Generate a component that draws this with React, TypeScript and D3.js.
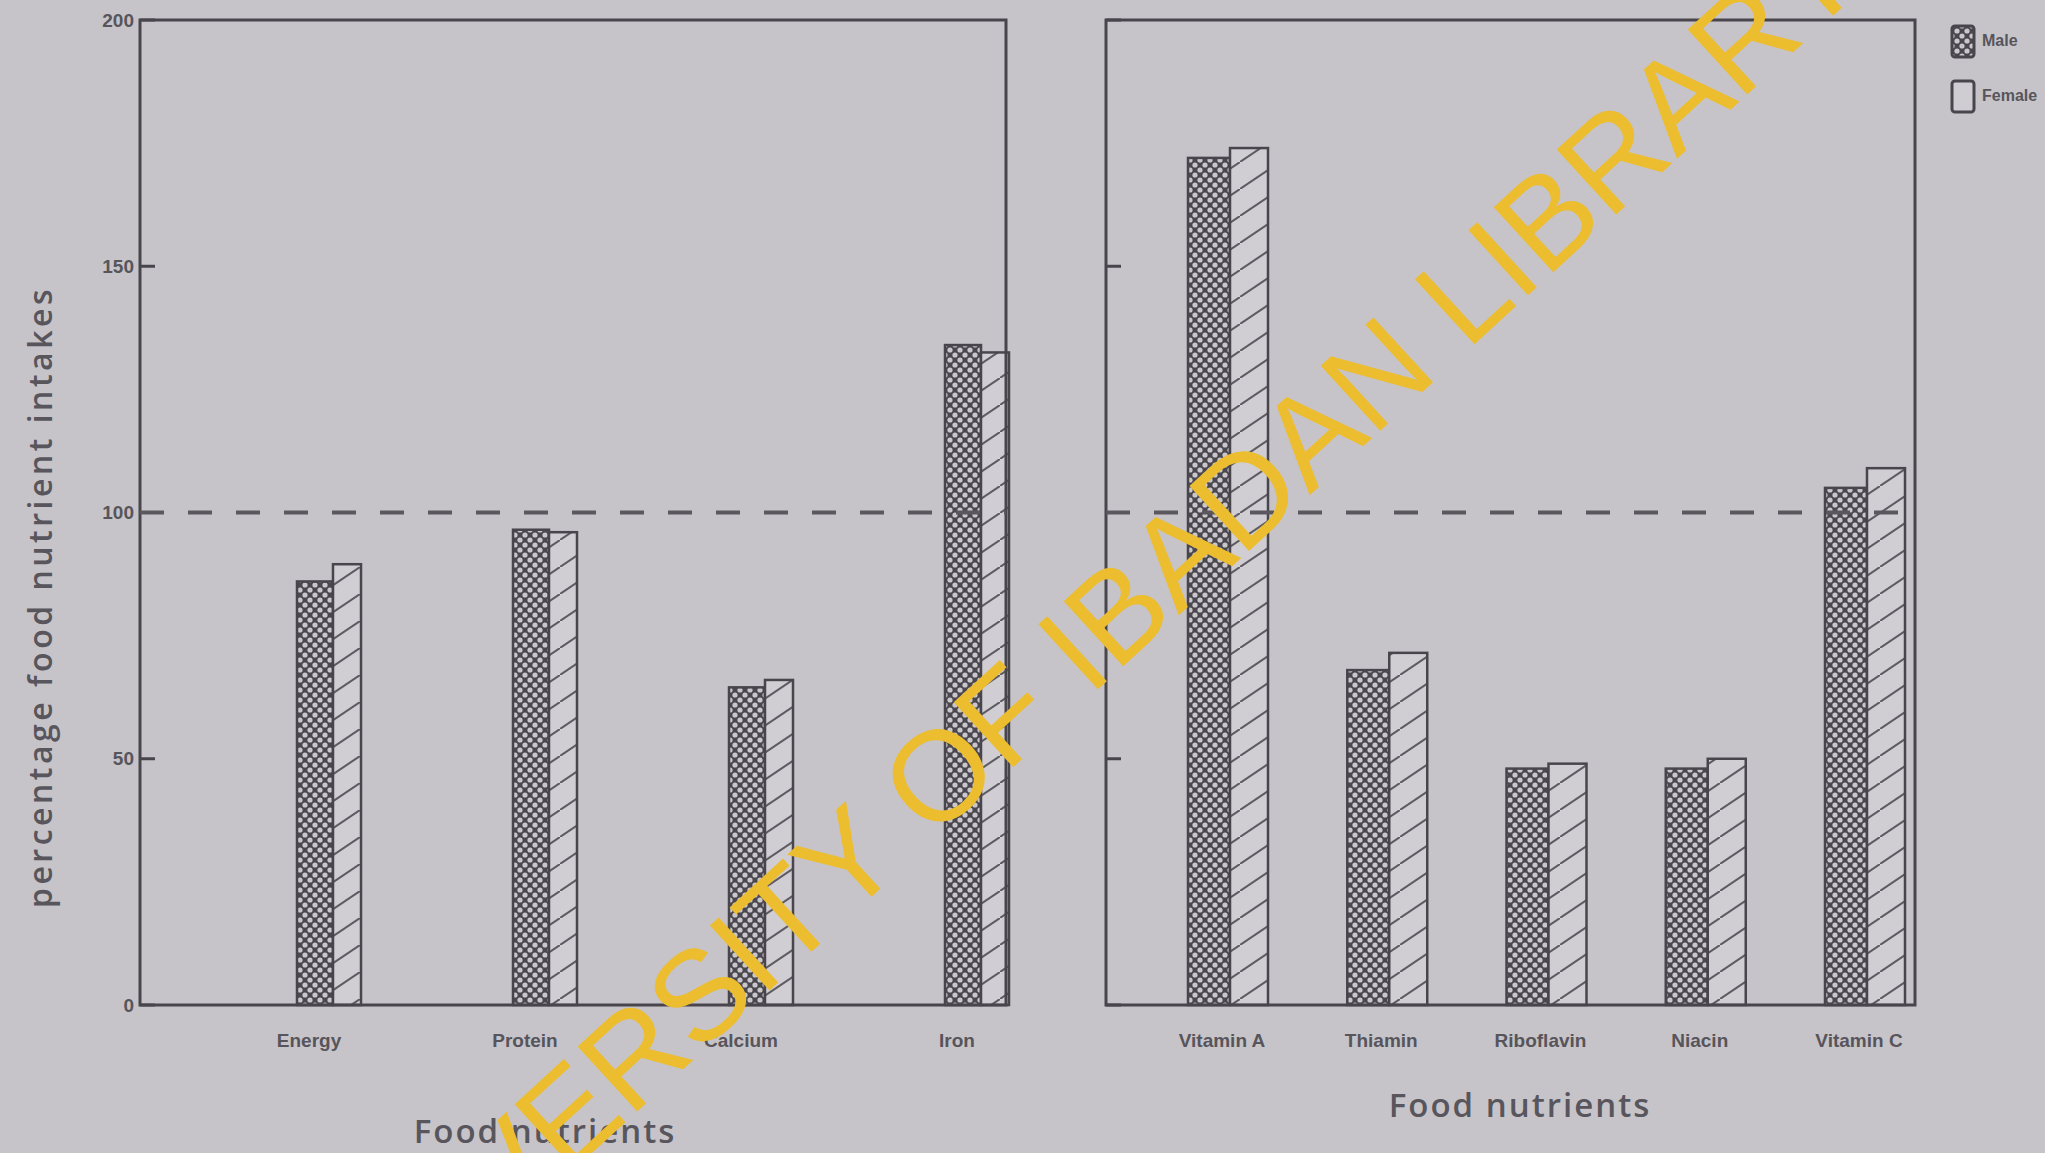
import React from "react";
import * as d3 from "d3";

const leftCategories = ["Energy", "Protein", "Calcium", "Iron"];
const leftMale = [86, 96.5, 64.5, 134];
const leftFemale = [89.5, 96, 66, 132.5];

const rightCategories = ["Vitamin A", "Thiamin", "Riboflavin", "Niacin", "Vitamin C"];
const rightMale = [172, 68, 48, 48, 105];
const rightFemale = [174, 71.5, 49, 50, 109];

const yTicks = [0, 50, 100, 150, 200];
const legendLabels = ["Male", "Female"];
const referenceLine = 100;

const W = 2045;
const H = 1153;
const BG = "#c6c4c9";
const INK = "#48464c";
const TEXT = "#57555b";

export default function App() {
  const y = d3.scaleLinear().domain([0, 200]).range([1005, 20]);

  const leftFrame = { x0: 140, x1: 1006 };
  const rightFrame = { x0: 1106, x1: 1915 };

  const xLeft = d3.scalePoint<string>().domain(leftCategories).range([333, 981]);
  const xRight = d3.scalePoint<string>().domain(rightCategories).range([1230, 1867]);

  const panels = [
    { cats: leftCategories, male: leftMale, female: leftFemale, x: xLeft, frame: leftFrame, mw: 36, fw: 28, labelOff: -24, tickLabels: true },
    { cats: rightCategories, male: rightMale, female: rightFemale, x: xRight, frame: rightFrame, mw: 42, fw: 38, labelOff: -8, tickLabels: false },
  ];

  return (
    <svg width={W} height={H} style={{ position: "fixed", left: 0, top: 0, display: "block" }}>
      <defs>
        <pattern id="cross" patternUnits="userSpaceOnUse" width={10} height={10}>
          <rect width={10} height={10} fill="#4a484e" />
          <circle cx={0} cy={0} r={2.6} fill="#c9c7cc" />
          <circle cx={10} cy={0} r={2.6} fill="#c9c7cc" />
          <circle cx={0} cy={10} r={2.6} fill="#c9c7cc" />
          <circle cx={10} cy={10} r={2.6} fill="#c9c7cc" />
          <circle cx={5} cy={5} r={2.6} fill="#c9c7cc" />
        </pattern>
        <pattern id="hatch" patternUnits="userSpaceOnUse" width={40} height={27}>
          <rect width={40} height={27} fill="#d0ced3" />
          <line x1={0} y1={27} x2={40} y2={0} stroke="#5d5b61" strokeWidth={2} />
        </pattern>
      </defs>
      <rect width={W} height={H} fill={BG} />

      {panels.map((p, pi) => (
        <g key={pi}>
          {p.cats.map((c, i) => {
            const cx = p.x(c) as number;
            return (
              <g key={c}>
                <rect x={cx - p.mw} y={y(p.male[i])} width={p.mw} height={y(0) - y(p.male[i])} fill="url(#cross)" stroke={INK} strokeWidth={2.5} />
                <rect x={cx} y={y(p.female[i])} width={p.fw} height={y(0) - y(p.female[i])} fill="url(#hatch)" stroke={INK} strokeWidth={2.5} />
                <text x={cx + p.labelOff} y={1047} textAnchor="middle" fontFamily="Liberation Sans" fontWeight="bold" fontSize={19} fill={TEXT}>{c}</text>
              </g>
            );
          })}
          <rect x={p.frame.x0} y={y(200)} width={p.frame.x1 - p.frame.x0} height={y(0) - y(200)} fill="none" stroke={INK} strokeWidth={3} />
          {yTicks.map((t) => (
            <g key={t}>
              <line x1={p.frame.x0} x2={p.frame.x0 + 15} y1={y(t)} y2={y(t)} stroke={INK} strokeWidth={3} />
              {p.tickLabels && (
                <text x={p.frame.x0 - 6} y={y(t)} dy="0.35em" textAnchor="end" fontFamily="Liberation Sans" fontWeight="bold" fontSize={19} fill={TEXT}>{t}</text>
              )}
            </g>
          ))}
          <line x1={p.frame.x0} x2={p.frame.x1} y1={y(referenceLine)} y2={y(referenceLine)} stroke="#5a585e" strokeWidth={4} strokeDasharray="24 24" />
        </g>
      ))}

      <text x={545} y={1143} textAnchor="middle" fontFamily="Open Sans" fontWeight={600} fontSize={33} letterSpacing={2} fill="#58565c">Food nutrients</text>
      <text x={1520} y={1117} textAnchor="middle" fontFamily="Open Sans" fontWeight={600} fontSize={33} letterSpacing={2} fill="#58565c">Food nutrients</text>
      <text transform="translate(52,597) rotate(-90)" textAnchor="middle" fontFamily="Open Sans" fontWeight={600} fontSize={32} letterSpacing={3.5} fill="#58565c">percentage food nutrient intakes</text>

      {legendLabels.map((l, i) => (
        <g key={l} transform={`translate(1952, ${26 + i * 55})`}>
          <rect width={22} height={31} fill={i === 0 ? "url(#cross)" : "#cfcdd2"} stroke={INK} strokeWidth={3} rx={3} />
          <text x={30} y={20} fontFamily="Liberation Sans" fontWeight="bold" fontSize={16} fill={TEXT}>{l}</text>
        </g>
      ))}

      <text transform="translate(1075,650) rotate(-42.5)" textAnchor="middle" dominantBaseline="central" fontFamily="Liberation Sans" fontSize={128} fill="#ecbd2e">UNIVERSITY OF IBADAN LIBRARY</text>
    </svg>
  );
}
